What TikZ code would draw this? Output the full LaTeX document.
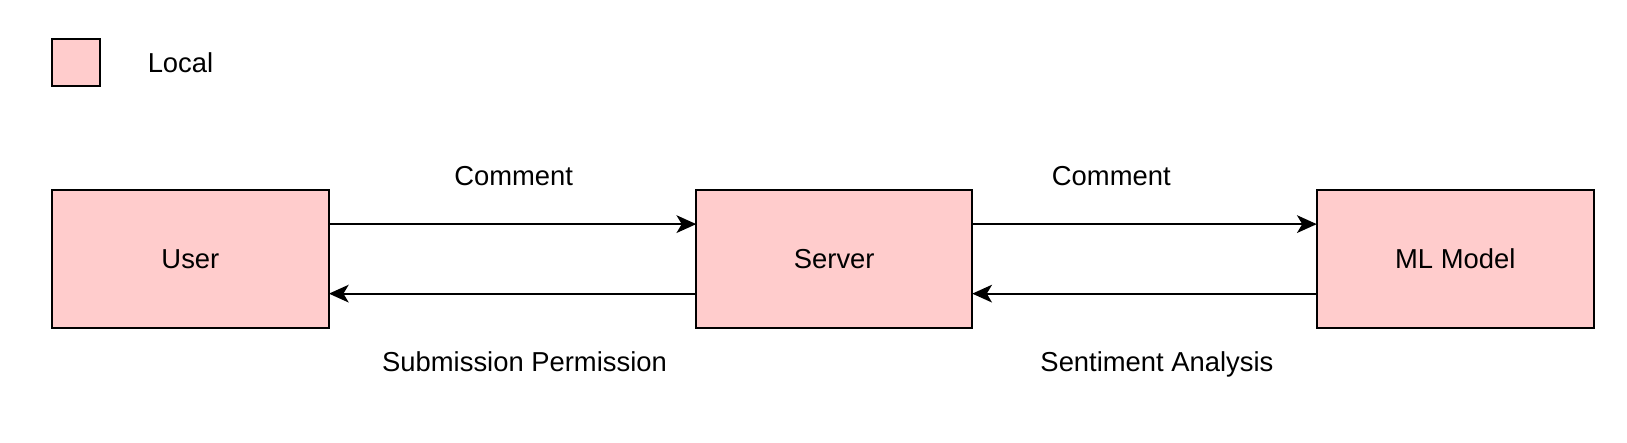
\documentclass[tikz,border=0pt]{standalone}
\usepackage{fontspec}
\setmainfont{Liberation Sans}
\usetikzlibrary{arrows.meta}
\definecolor{localfill}{HTML}{FFCCCC}
\tikzset{
  box/.style={draw=black, fill=localfill, line width=1pt},
  lbl/.style={font=\fontsize{13.2pt}{15pt}\selectfont, text=black, inner sep=0pt, text depth=0pt},
  flow/.style={line width=1pt, -{Stealth[length=9.5pt,width=8.5pt,inset=2.5pt]}}
}
\begin{document}
\begin{tikzpicture}[x=0.5pt,y=-0.5pt]
\useasboundingbox (0,0) rectangle (1568,426);
% legend
\draw[box] (50,38) rectangle (96,83);
\node[lbl, anchor=west] (legend) at (142,60) {Local};
% boxes
\draw[box] (50,183) rectangle (317,316);
\draw[box] (671,183) rectangle (937,316);
\draw[box] (1269,183) rectangle (1536,316);
\node[lbl] (user) at (183.5,249.5) {User};
\node[lbl] (server) at (804,249.5) {Server};
\node[lbl] (ml) at (1402.5,249.5) {ML Model};
\coordinate (uR1) at (317,216);
\coordinate (uR2) at (317,283);
\coordinate (sL1) at (671,216);
\coordinate (sL2) at (671,283);
\coordinate (sR1) at (937,216);
\coordinate (sR2) at (937,283);
\coordinate (mL1) at (1269,216);
\coordinate (mL2) at (1269,283);
\draw[flow] (uR1) -- (sL1);
\draw[flow] (sL2) -- (uR2);
\draw[flow] (sR1) -- (mL1);
\draw[flow] (mL2) -- (sR2);
% labels
\node[lbl] (c1) at (495,170) {Comment};
\node[lbl] (sp) at (505.5,348) {Submission Permission};
\node[lbl] (c2) at (1071,170) {Comment};
\node[lbl] (sa) at (1115,348) {Sentiment Analysis};
\end{tikzpicture}
\end{document}
